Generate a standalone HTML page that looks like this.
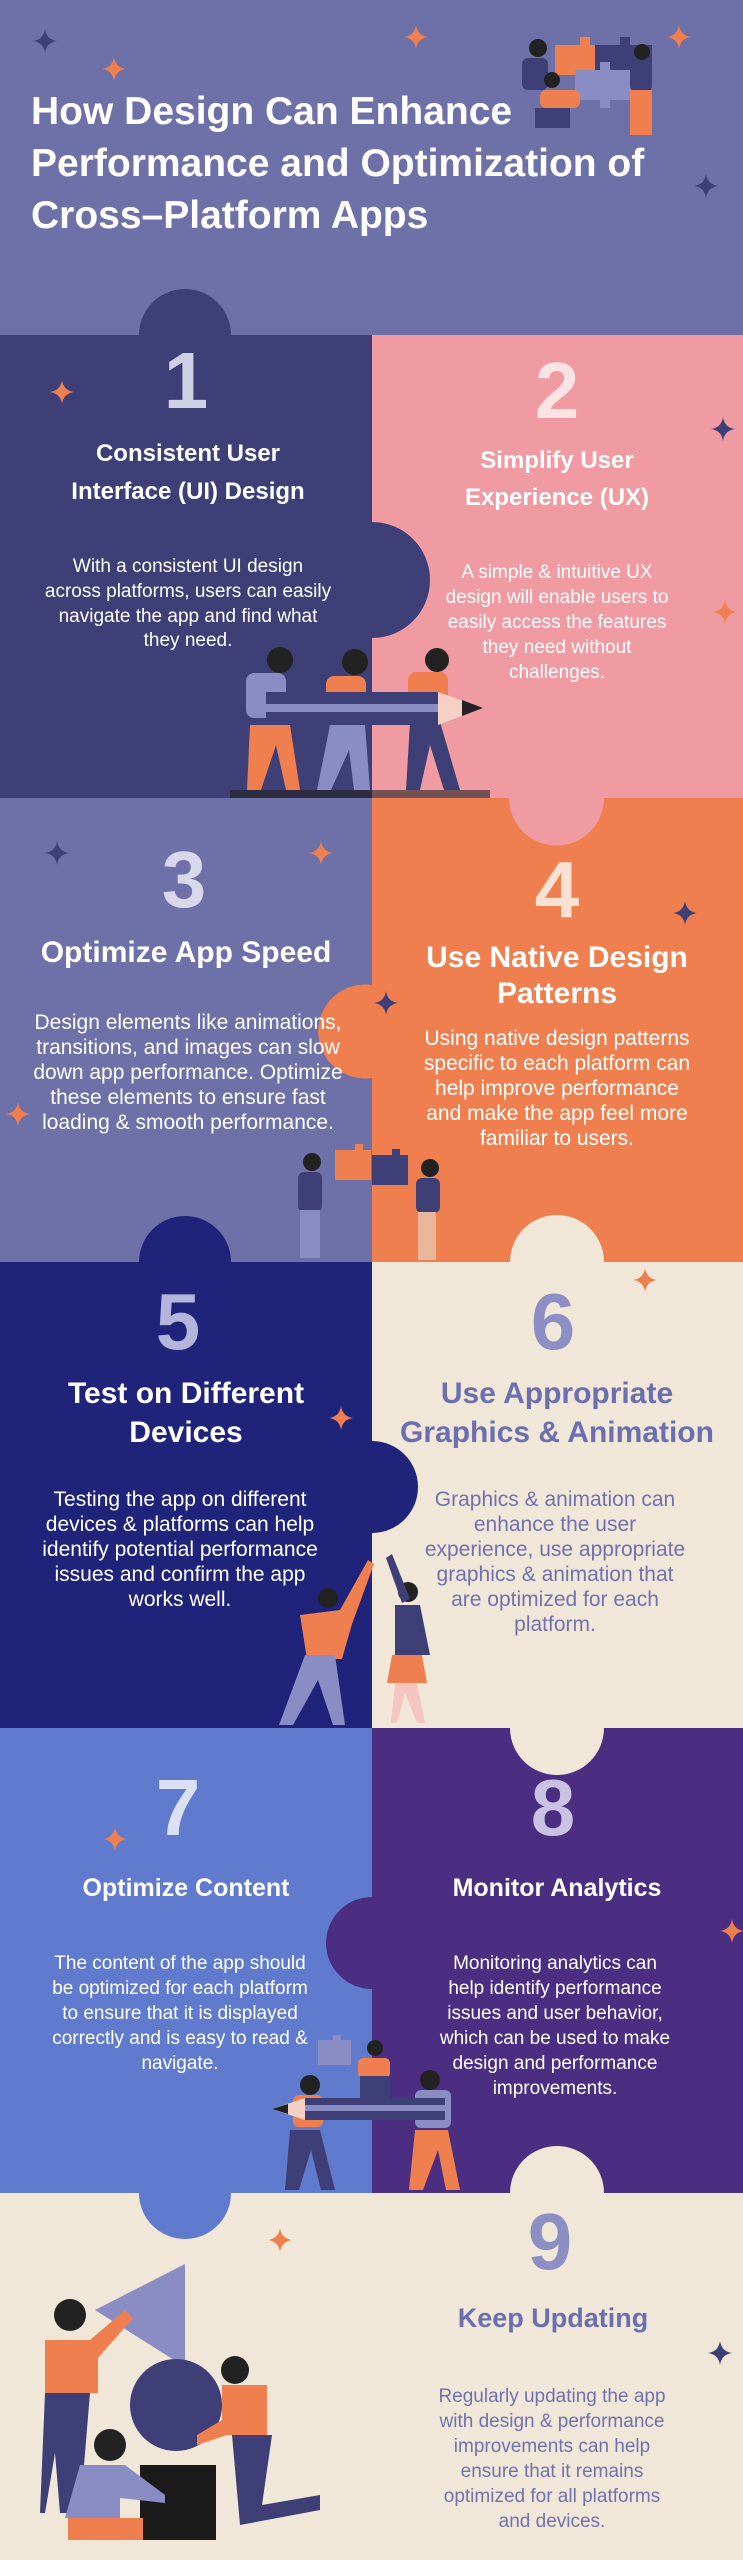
<!DOCTYPE html>
<html><head><meta charset="utf-8"><style>
html,body{margin:0;padding:0;}
body{width:743px;height:2560px;overflow:hidden;}
svg{display:block;}
.h{font-family:"Liberation Sans",sans-serif;font-weight:bold;text-anchor:middle;}
.b{font-family:"Liberation Sans",sans-serif;text-anchor:middle;font-size:19px;}
.n{font-family:"Liberation Sans Narrow","Liberation Sans",sans-serif;text-anchor:middle;}
.num{font-family:"Liberation Sans",sans-serif;font-weight:bold;text-anchor:middle;font-size:80px;}
</style></head><body>
<svg width="743" height="2560" viewBox="0 0 743 2560" xmlns="http://www.w3.org/2000/svg">
<defs>
<path id="st" d="M0,-12 Q1.5,-1.5 12,0 Q1.5,1.5 0,12 Q-1.5,1.5 -12,0 Q-1.5,-1.5 0,-12Z"/>
</defs>
<!-- backgrounds -->
<rect x="0" y="0" width="743" height="335" fill="#6e70a8"/>
<rect x="0" y="335" width="372" height="463" fill="#3d3f76"/>
<rect x="372" y="335" width="371" height="463" fill="#f09aa2"/>
<rect x="0" y="798" width="372" height="464" fill="#6e70a8"/>
<rect x="372" y="798" width="371" height="464" fill="#f07f4f"/>
<rect x="0" y="1262" width="372" height="466" fill="#1f237a"/>
<rect x="372" y="1262" width="371" height="466" fill="#f1e7d8"/>
<rect x="0" y="1728" width="372" height="465" fill="#607bcd"/>
<rect x="372" y="1728" width="371" height="465" fill="#4b2e82"/>
<rect x="0" y="2193" width="743" height="367" fill="#f1e7d8"/>
<!-- puzzle bumps -->
<path d="M139,335 A46,46 0 1 1 231,335 Z" fill="#3d3f76"/>
<path d="M372,522 A58,58 0 1 1 372,638 Z" fill="#3d3f76"/>
<path d="M509,798 A47,47 0 1 0 604,798 Z" fill="#f09aa2"/>
<path d="M372,985 A47,47 0 1 0 372,1078 Z" fill="#f07f4f"/>
<path d="M139,1262 A46,46 0 1 1 231,1262 Z" fill="#1f237a"/>
<path d="M510,1262 A47,47 0 1 1 604,1262 Z" fill="#f1e7d8"/>
<path d="M372,1441 A46,46 0 1 1 372,1533 Z" fill="#1f237a"/>
<path d="M510,1728 A47,47 0 1 0 604,1728 Z" fill="#f1e7d8"/>
<path d="M372,1897 A46,46 0 1 0 372,1989 Z" fill="#4b2e82"/>
<path d="M139,2193 A46,46 0 1 0 231,2193 Z" fill="#607bcd"/>
<path d="M510,2193 A47,47 0 1 1 604,2193 Z" fill="#f1e7d8"/>
<!-- stars -->
<g fill="#3d3f76"><use href="#st" x="45" y="41"/><use href="#st" x="706" y="186"/><use href="#st" x="723" y="429"/><use href="#st" x="57" y="853"/><use href="#st" x="685" y="913"/><use href="#st" x="386" y="1003"/><use href="#st" x="720" y="2353"/></g>
<g fill="#f07f4f"><use href="#st" x="416" y="37" transform=""/><use href="#st" x="114" y="69"/><use href="#st" x="679" y="37"/><use href="#st" x="62" y="392"/><use href="#st" x="725" y="612"/><use href="#st" x="321" y="853"/><use href="#st" x="18" y="1114"/><use href="#st" x="645" y="1280"/><use href="#st" x="341" y="1418"/><use href="#st" x="115" y="1839"/><use href="#st" x="732" y="1931"/><use href="#st" x="280" y="2240"/></g>
<!-- header illustration -->
<g>
<path d="M555,45 h25 v-8 h10 v8 h22 v30 h-22 v8 h-10 v-8 h-25z" fill="#f07f4f"/>
<path d="M595,45 h25 v-8 h10 v8 h22 v30 h-22 v8 h-10 v-8 h-25z" fill="#3d3f76"/>
<path d="M575,70 h25 v-8 h10 v8 h22 v30 h-22 v8 h-10 v-8 h-25z" fill="#8a8cc4"/>
<circle cx="538" cy="48" r="9" fill="#222"/><rect x="522" y="58" width="26" height="32" rx="6" fill="#3d3f76"/><rect x="525" y="90" width="18" height="45" fill="#6e70a8"/>
<circle cx="552" cy="80" r="8" fill="#222"/><rect x="540" y="90" width="40" height="18" rx="6" fill="#f07f4f"/><rect x="535" y="108" width="35" height="20" fill="#3d3f76"/>
<circle cx="642" cy="52" r="8" fill="#222"/><rect x="630" y="62" width="22" height="30" rx="6" fill="#3d3f76"/><rect x="630" y="90" width="22" height="45" fill="#f07f4f"/>
</g>
<!-- header title -->
<g class="h" style="text-anchor:start" fill="#fff" font-size="39">
<text x="31" y="124" style="text-anchor:start">How Design Can Enhance</text>
<text x="31" y="176" style="text-anchor:start">Performance and Optimization of</text>
<text x="31" y="228" style="text-anchor:start">Cross–Platform Apps</text>
</g>
<!-- row1 -->
<text class="num" x="186" y="408" fill="#d0d0e4">1</text>
<text class="num" x="557" y="418" fill="#f9e3e3">2</text>
<g class="h" fill="#fff" font-size="24"><text x="188" y="461">Consistent User</text><text x="188" y="499">Interface (UI) Design</text>
<text x="557" y="468">Simplify User</text><text x="557" y="505">Experience (UX)</text></g>
<g class="b" fill="#fff"><text x="188" y="572">With a consistent UI design</text><text x="188" y="597">across platforms, users can easily</text><text x="188" y="622">navigate the app and find what</text><text x="188" y="646">they need.</text>
<text x="557" y="578">A simple &amp; intuitive UX</text><text x="557" y="603">design will enable users to</text><text x="557" y="628">easily access the features</text><text x="557" y="653">they need without</text><text x="557" y="678">challenges.</text></g>
<!-- row1 illustration -->
<g>
<circle cx="280" cy="660" r="13" fill="#222"/><rect x="246" y="673" width="40" height="45" rx="8" fill="#8a8cc4"/>
<path d="M250,725 h40 l10,65 h-14 l-10,-45 l-15,45 h-14z" fill="#f07f4f"/>
<circle cx="355" cy="662" r="13" fill="#222"/><rect x="326" y="676" width="40" height="40" rx="8" fill="#f07f4f"/>
<path d="M330,725 h35 l5,65 h-16 l-5,-40 l-18,40 h-14z" fill="#8a8cc4"/>
<circle cx="437" cy="660" r="12" fill="#222"/><rect x="408" y="672" width="40" height="38" rx="8" fill="#f07f4f"/>
<path d="M410,722 h30 l20,68 h-16 l-14,-45 l-10,45 h-14z" fill="#3d3f76"/>
<rect x="266" y="692" width="172" height="33" fill="#3d3f76"/><rect x="266" y="704" width="172" height="8" fill="#8a8cc4"/>
<path d="M438,692 L483,708 L438,725Z" fill="#f5d0c5"/><path d="M462,700 L483,708 L462,716Z" fill="#222"/>
<rect x="230" y="790" width="260" height="8" fill="#222" opacity="0.6"/>
</g>
<!-- row2 -->
<text class="num" x="184" y="907" fill="#d8d8ea">3</text>
<text class="num" x="557" y="917" fill="#fbe0d4">4</text>
<g class="n" fill="#fff" font-weight="bold" font-size="30"><text x="186" y="962">Optimize App Speed</text>
<text x="557" y="967">Use Native Design</text><text x="557" y="1003">Patterns</text></g>
<g class="n" fill="#fff" font-size="21"><text x="188" y="1029">Design elements like animations,</text><text x="188" y="1054">transitions, and images can slow</text><text x="188" y="1079">down app performance. Optimize</text><text x="188" y="1104">these elements to ensure fast</text><text x="188" y="1129">loading &amp; smooth performance.</text>
<text x="557" y="1045">Using native design patterns</text><text x="557" y="1070">specific to each platform can</text><text x="557" y="1095">help improve performance</text><text x="557" y="1120">and make the app feel more</text><text x="557" y="1145">familiar to users.</text></g>
<g>
<circle cx="312" cy="1162" r="9" fill="#222"/><rect x="298" y="1172" width="24" height="40" rx="6" fill="#3d3f76"/><rect x="300" y="1210" width="20" height="48" fill="#8a8cc4"/>
<path d="M335,1150 h20 v-6 h8 v6 h8 v30 h-36z" fill="#f07f4f"/>
<path d="M372,1155 h20 v-6 h8 v6 h8 v30 h-36z" fill="#3d3f76"/>
<circle cx="430" cy="1168" r="9" fill="#222"/><rect x="416" y="1178" width="24" height="35" rx="6" fill="#3d3f76"/><rect x="418" y="1212" width="18" height="48" fill="#e9b89a"/>
</g>
<!-- row3 -->
<text class="num" x="178" y="1349" fill="#b3b5dc">5</text>
<text class="num" x="553" y="1349" fill="#8c8fc3">6</text>
<g class="n" font-weight="bold" font-size="30"><text x="186" y="1403" fill="#fff">Test on Different</text><text x="186" y="1442" fill="#fff">Devices</text>
<text x="557" y="1403" fill="#6b6fb0">Use Appropriate</text><text x="557" y="1442" fill="#6b6fb0">Graphics &amp; Animation</text></g>
<g class="n" font-size="21"><g fill="#fff"><text x="180" y="1506">Testing the app on different</text><text x="180" y="1531">devices &amp; platforms can help</text><text x="180" y="1556">identify potential performance</text><text x="180" y="1581">issues and confirm the app</text><text x="180" y="1606">works well.</text></g>
<g fill="#7072b0"><text x="555" y="1506">Graphics &amp; animation can</text><text x="555" y="1531">enhance the user</text><text x="555" y="1556">experience, use appropriate</text><text x="555" y="1581">graphics &amp; animation that</text><text x="555" y="1606">are optimized for each</text><text x="555" y="1631">platform.</text></g></g>
<g>
<circle cx="328" cy="1598" r="10" fill="#222"/><path d="M300,1615 l40,-5 l28,-50 l6,4 l-22,60 l-10,35 h-35z" fill="#f07f4f"/>
<path d="M305,1655 h30 l10,70 h-12 l-15,-45 l-25,45 h-14z" fill="#8a8cc4"/>
<circle cx="408" cy="1592" r="10" fill="#222"/><path d="M395,1605 h25 l10,50 h-35z" fill="#3d3f76"/><path d="M386,1558 l6,-4 l18,45 l-8,4z" fill="#3d3f76"/>
<path d="M392,1655 h30 l5,28 h-40z" fill="#f07f4f"/><path d="M395,1683 h22 l8,40 h-8 l-12,-30 l-8,30 h-6z" fill="#f5c5c0"/>
</g>
<!-- row4 -->
<text class="num" x="178" y="1835" fill="#dbe0f5">7</text>
<text class="num" x="553" y="1835" fill="#c9c2e3">8</text>
<g class="h" fill="#fff" font-size="25"><text x="186" y="1896">Optimize Content</text><text x="557" y="1896">Monitor Analytics</text></g>
<g class="b" fill="#fff"><text x="180" y="1969">The content of the app should</text><text x="180" y="1994">be optimized for each platform</text><text x="180" y="2019">to ensure that it is displayed</text><text x="180" y="2044">correctly and is easy to read &amp;</text><text x="180" y="2069">navigate.</text>
<text x="555" y="1969">Monitoring analytics can</text><text x="555" y="1994">help identify performance</text><text x="555" y="2019">issues and user behavior,</text><text x="555" y="2044">which can be used to make</text><text x="555" y="2069">design and performance</text><text x="555" y="2094">improvements.</text></g>
<g>
<path d="M318,2040 h15 v-5 h8 v5 h10 v25 h-33z" fill="#8a8cc4"/>
<circle cx="375" cy="2048" r="8" fill="#222"/><rect x="358" y="2058" width="32" height="20" rx="5" fill="#f07f4f"/><rect x="360" y="2076" width="30" height="22" fill="#3d3f76"/>
<circle cx="310" cy="2085" r="10" fill="#222"/><rect x="293" y="2095" width="30" height="32" rx="6" fill="#f07f4f"/><path d="M290,2130 h30 l15,60 h-14 l-10,-40 l-12,40 h-14z" fill="#3d3f76"/>
<circle cx="430" cy="2080" r="10" fill="#222"/><rect x="415" y="2090" width="36" height="38" rx="6" fill="#8a8cc4"/><path d="M415,2130 h33 l12,60 h-14 l-8,-40 l-15,40 h-14z" fill="#f07f4f"/>
<rect x="305" y="2098" width="140" height="22" fill="#3d3f76"/><rect x="305" y="2105" width="140" height="6" fill="#8a8cc4"/><path d="M305,2098 L272,2109 L305,2120Z" fill="#f5d0c5"/><path d="M288,2104 L272,2109 L288,2114Z" fill="#222"/>
</g>
<!-- row5 -->
<text class="num" x="550" y="2269" fill="#8c8fc3">9</text>
<text class="h" x="553" y="2327" fill="#6b6fb0" font-size="27">Keep Updating</text>
<g class="b" fill="#7072b0"><text x="552" y="2402">Regularly updating the app</text><text x="552" y="2427">with design &amp; performance</text><text x="552" y="2452">improvements can help</text><text x="552" y="2477">ensure that it remains</text><text x="552" y="2502">optimized for all platforms</text><text x="552" y="2527">and devices.</text></g>
<g>
<path d="M185,2264 L95,2310 L185,2367Z" fill="#8a8cc4"/>
<circle cx="176" cy="2405" r="46" fill="#3d3f76"/>
<rect x="140" y="2465" width="76" height="75" fill="#1a1a1a"/>
<circle cx="70" cy="2315" r="16" fill="#222"/><path d="M45,2340 h45 l35,-30 l8,8 l-35,40 v35 h-53z" fill="#f07f4f"/><path d="M45,2393 h45 l-10,120 h-20 l-5,-60 l-10,60 h-5z" fill="#3d3f76"/>
<circle cx="235" cy="2370" r="14" fill="#222"/><path d="M222,2385 h45 v50 h-40 l-30,10 v-10 l25,-15z" fill="#f07f4f"/><path d="M232,2435 h40 l-10,70 l58,-10 v15 l-80,15z" fill="#3d3f76"/>
<circle cx="110" cy="2445" r="16" fill="#222"/><path d="M80,2465 h45 l40,30 v8 l-45,-5 v20 h-55z" fill="#8a8cc4"/><path d="M68,2518 h75 v22 h-75z" fill="#f07f4f"/>
</g>
</svg>
</body></html>
